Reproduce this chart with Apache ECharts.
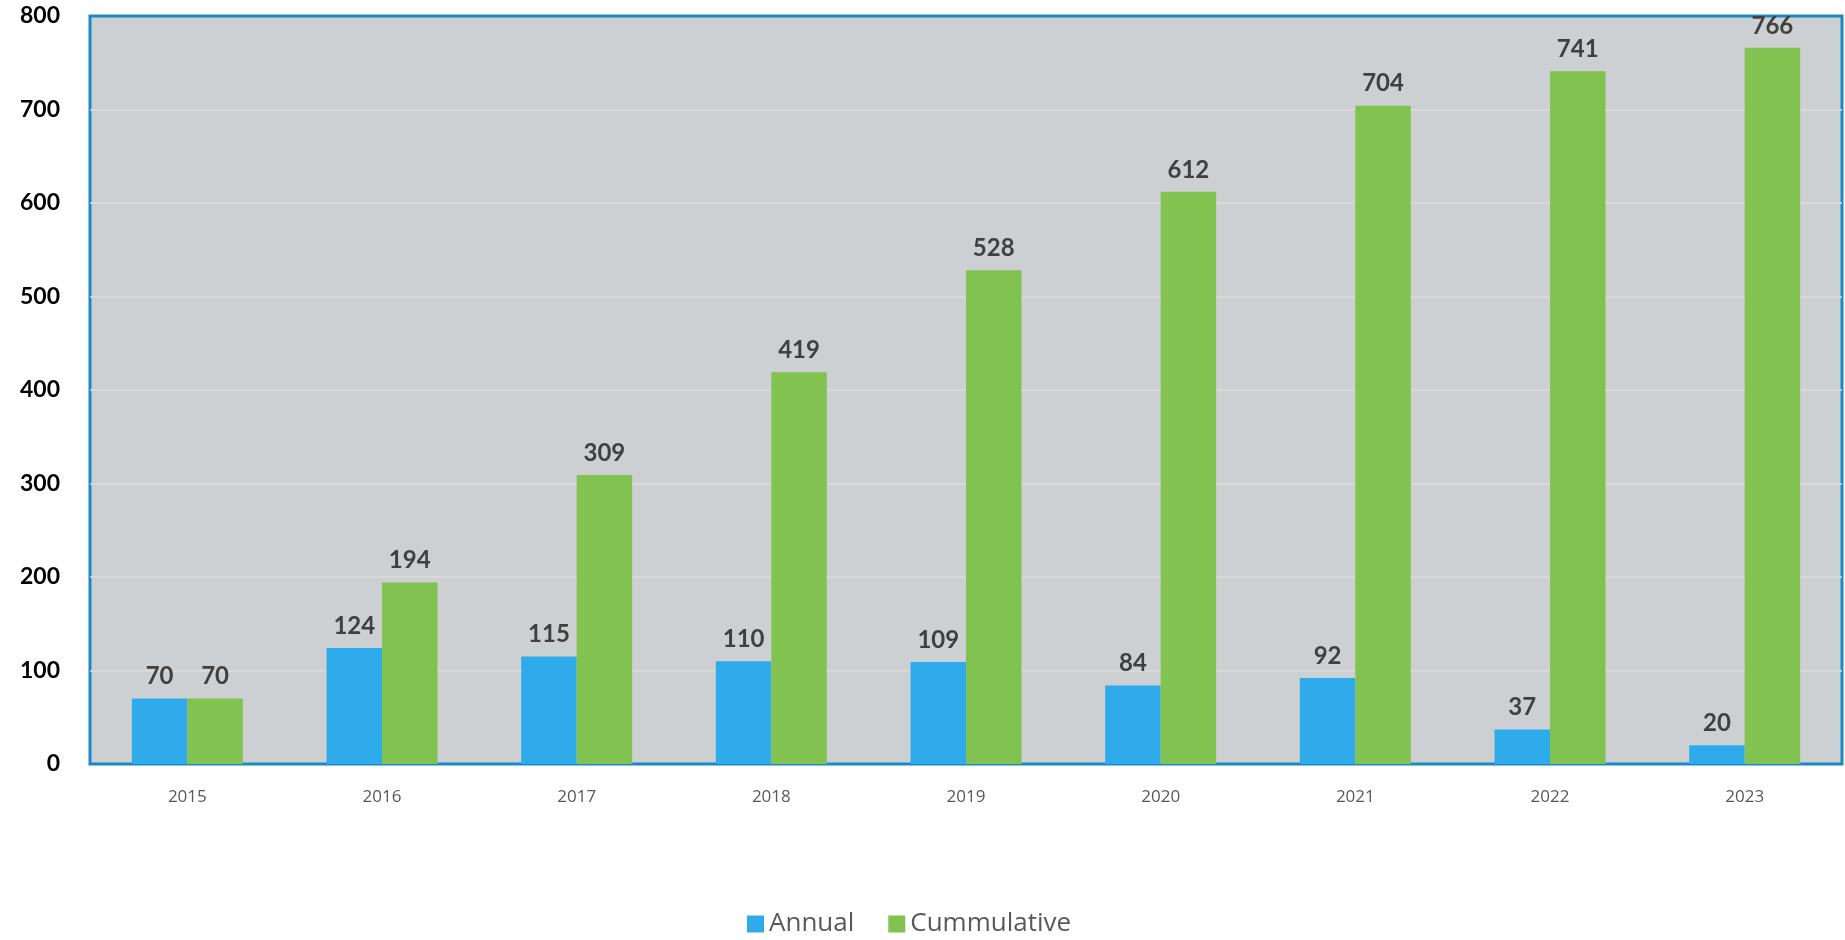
<!DOCTYPE html>
<html><head><meta charset="utf-8">
<script src="https://cdn.jsdelivr.net/npm/echarts@6/dist/echarts.min.js"></script>
<style>html,body{margin:0;padding:0;background:#fff}#c{width:1845px;height:940px}</style>
</head><body><div id="c"></div>
<script>
const categories = ['2015','2016','2017','2018','2019','2020','2021','2022','2023'];
const annual = [70,124,115,110,109,84,92,37,20];
const cumulative = [70,194,309,419,528,612,704,741,766];
const seriesNames = ['Annual','Cummulative'];

const chart = echarts.init(document.getElementById('c'));
const lbl = {show:true, position:'top', distance:10, color:'#404040', fontFamily:'Lato', fontWeight:'bold', fontSize:24};
chart.setOption({
  animation:false,
  grid:{left:90, top:16, right:3, bottom:176, show:true, backgroundColor:'#cdd0d2', borderColor:'#1a8ac6', borderWidth:3},
  legend:{bottom:-2, left:742, itemWidth:17, itemHeight:17, itemGap:34, icon:'rect',
    textStyle:{color:'#595959', fontSize:26, fontFamily:'Open Sans'}},
  xAxis:{type:'category', data:categories,
    axisLine:{lineStyle:{color:'#1a8ac6', width:2}}, axisTick:{show:false},
    axisLabel:{color:'#595959', fontSize:17, fontFamily:'Open Sans', margin:25}},
  yAxis:{type:'value', min:0, max:800, interval:100,
    axisLine:{show:false}, axisTick:{show:false},
    splitLine:{showMaxLine:false, lineStyle:{color:'#dcdcdc', width:1.5}},
    axisLabel:{color:'#000', fontSize:23, fontWeight:'bold', fontFamily:'Lato', margin:30}},
  series:[
    {name:seriesNames[0], type:'bar', data:annual, itemStyle:{color:'#2fabeb'}, barGap:'0%', barCategoryGap:'43%', label:lbl},
    {name:seriesNames[1], type:'bar', data:cumulative, itemStyle:{color:'#82c250'}, barGap:'0%', barCategoryGap:'43%', label:lbl}
  ]
});
</script></body></html>
